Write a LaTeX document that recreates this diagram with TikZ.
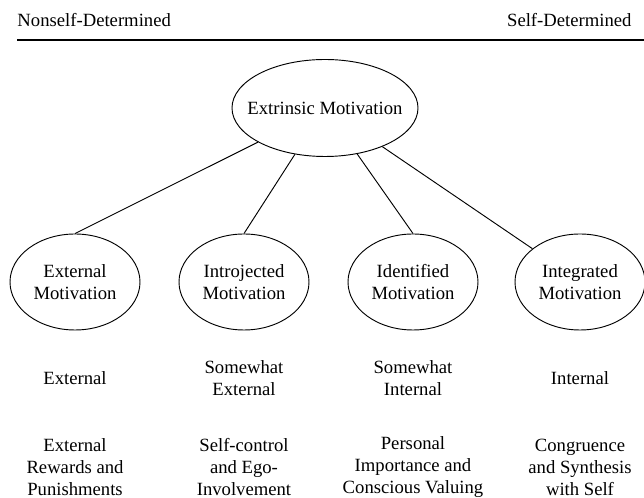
\documentclass[tikz,border=0pt]{standalone}
\usepackage{fontspec}
\setmainfont{Liberation Serif}
\usetikzlibrary{shapes.geometric}

\begin{document}
\begin{tikzpicture}[x=0.75pt,y=-0.75pt,line width=0.7pt,font=\fontsize{14}{16.5}\selectfont,
  motiv/.style={ellipse,draw,align=center,inner sep=1pt,minimum width=97.5pt,minimum height=72pt},
  lbl/.style={align=center,inner sep=0pt}]
\useasboundingbox (0,0) rectangle (644,498);
% heading and rule
\node[anchor=base west,inner sep=0pt] (nonself) at (17,27) {Nonself-Determined};
\node[anchor=base east,inner sep=0pt] (self) at (632,27) {Self-Determined};
\coordinate (rulel) at (17,40);
\coordinate (ruler) at (644,40);
\draw[line width=1pt] (rulel) -- (ruler);
% ellipses
\node[motiv,minimum width=139.5pt,minimum height=72.75pt] (extr) at (325,108) {\makebox[0pt]{Extrinsic Motivation}};
\node[motiv] (ext) at (75,282) {External\\Motivation};
\node[motiv] (intro) at (244,282) {Introjected\\Motivation};
\node[motiv] (ident) at (413,282) {Identified\\Motivation};
\node[motiv] (integ) at (580,282) {Integrated\\Motivation};
\draw (extr.207) -- (ext.north);
\draw (extr.237) -- (intro.north);
\draw (extr.305) -- (ident.north);
\draw (extr.326) -- (integ.145);
% locus of causality
\node[lbl] (extloc) at (75,378) {External};
\node[lbl] (introloc) at (244,378) {Somewhat\\External};
\node[lbl] (identloc) at (413,378) {Somewhat\\Internal};
\node[lbl] (integloc) at (580,378) {Internal};
% regulatory processes
\node[lbl] (extproc) at (75,467) {External\\Rewards and\\Punishments};
\node[lbl] (introproc) at (244,467) {Self-control\\and Ego-\\Involvement};
\node[lbl] (identproc) at (413,467) {Personal\\Importance and\\Conscious Valuing};
\node[lbl] (integproc) at (580,467) {Congruence\\and Synthesis\\with Self};
\end{tikzpicture}
\end{document}
